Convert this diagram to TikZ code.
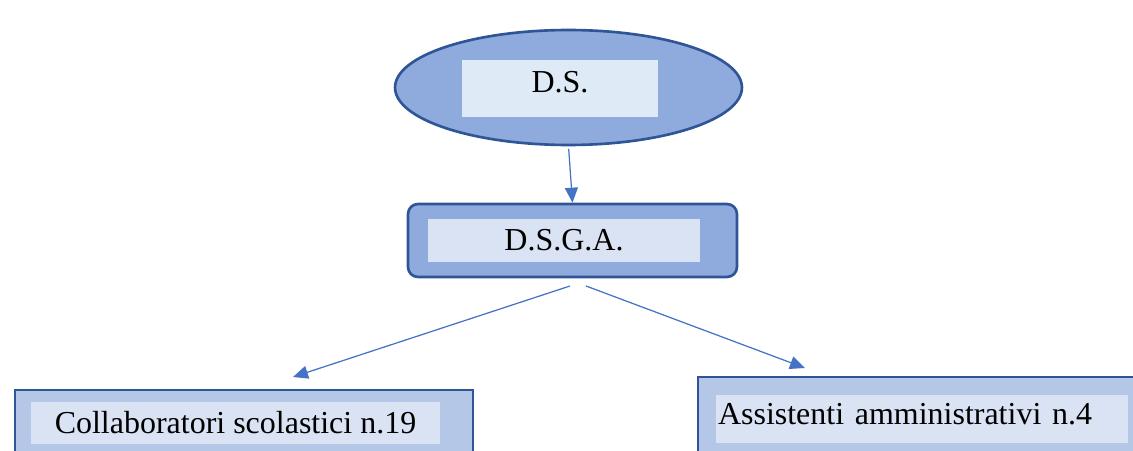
\documentclass[tikz,border=0pt]{standalone}
\usepackage{fontspec}
\setmainfont{Liberation Serif}
\usetikzlibrary{arrows.meta,shapes.geometric}
\definecolor{boxblue}{HTML}{8FAADC}
\definecolor{paleblue}{HTML}{B4C7E7}
\definecolor{innerblue}{HTML}{DAE3F3}
\definecolor{innerds}{HTML}{DEEBF7}
\definecolor{edgeblue}{HTML}{2F5597}
\definecolor{arrowblue}{HTML}{4472C4}
\tikzset{
  outer/.style={draw=edgeblue,line width=1.5pt,inner sep=0pt},
  inner/.style={inner sep=0pt,font=\fontsize{18.2pt}{22pt}\selectfont},
  arr/.style={draw=arrowblue,line width=0.7pt,-{Triangle[length=0.3cm,width=0.26cm]}}
}
\begin{document}
\begin{tikzpicture}[x=0.02cm,y=-0.02cm]
      \clip(0,0) rectangle (1133,450);
      \fill[white](0,0) rectangle (1133,450);
      % top level
      \node[outer,ellipse,fill=boxblue,minimum width=6.94cm,minimum height=2.3cm](DS) at(568.5,87.5){};
      \node[inner,fill=innerds,minimum width=3.92cm,minimum height=1.14cm,text depth=0.28cm](DSin) at(560,88.5){D.S.};
      % second level
      \node[outer,rounded corners=0.2cm,fill=boxblue,minimum width=6.58cm,minimum height=1.46cm](DSGA) at(572.5,240.5){};
      \node[inner,fill=innerblue,minimum width=5.44cm,minimum height=0.86cm](DSGAin) at(564,240.5){D.S.G.A.};
      % staff boxes
      \node[outer,fill=paleblue,minimum width=9.16cm,minimum height=1.6cm](Coll) at(244,430){};
      \node[inner,fill=innerblue,minimum width=8.18cm,minimum height=0.84cm](Collin) at(235.5,423){Collaboratori scolastici n.19};
      \node[outer,fill=paleblue,minimum width=8.84cm,minimum height=1.8cm](Ass) at(919,422){};
      \node[inner,fill=innerblue,minimum width=8.24cm,minimum height=0.96cm,text width=8.16cm,align=left,inner xsep=0.04cm,text depth=0.2cm](Assin) at(922,419){Assistenti amministrativi n.4};
      % arrows
      \coordinate(L0) at(570,286);
      \coordinate(L1) at(293,377);
      \coordinate(R0) at(586,286);
      \coordinate(R1) at(805,368);
      \draw[arr,shorten <=1.5pt](DS.south)--(DSGA.north);
      \draw[arr](L0)--(L1);
      \draw[arr](R0)--(R1);
    \end{tikzpicture}
\end{document}
